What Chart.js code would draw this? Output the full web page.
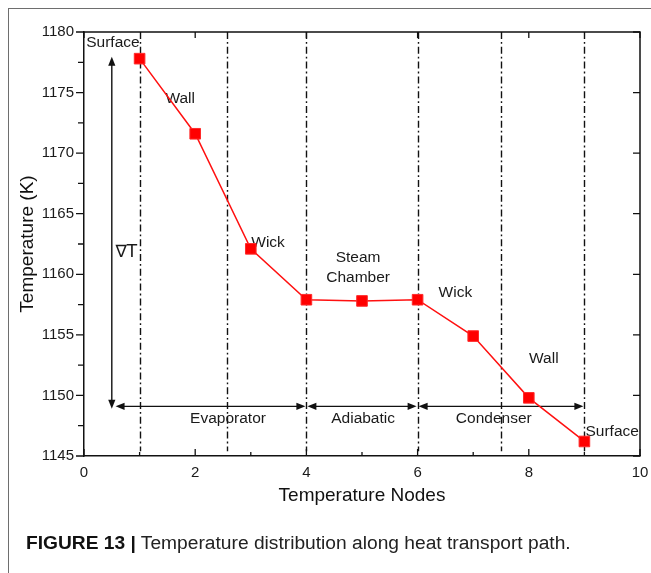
<!DOCTYPE html>
<html>
<head>
<meta charset="utf-8">
<script src="https://cdn.jsdelivr.net/npm/chart.js@4/dist/chart.umd.min.js"></script>
<style>
  html, body { margin: 0; padding: 0; background: #fff; }
  #wrap { position: relative; width: 651px; height: 573px; overflow: hidden; }
  #c { position: absolute; left: 0; top: 0; }
  #frame {
    position: absolute; left: 8px; top: 8px; width: 660px; height: 580px;
    border-left: 1.5px solid #6e6e6e; border-top: 1.5px solid #6e6e6e;
    pointer-events: none;
  }
  #caption {
    position: absolute; left: 26px; top: 533px; white-space: nowrap;
    font-family: "Liberation Sans", Arial, sans-serif; font-size: 19.2px; line-height: 19px;
    color: #222;
  }
  #caption b { color: #111; }
</style>
</head>
<body>
<div id="wrap">
  <canvas id="c" width="651" height="573"></canvas>
  <div id="frame"></div>
  <div id="caption"><b>FIGURE 13 |</b> Temperature distribution along heat transport path.</div>
</div>
<script>
// Temperature at each node along the heat transport path
const nodes = [1, 2, 3, 4, 5, 6, 7, 8, 9];
const temperatures = [1177.8, 1171.6, 1162.1, 1157.9, 1157.8, 1157.9, 1154.9, 1149.8, 1146.2];

// Axis ranges and tick values
const xTickValues = [0, 2, 4, 6, 8, 10];
const yTickValues = [1145, 1150, 1155, 1160, 1165, 1170, 1175, 1180];

// Boundaries between the layers of the heat pipe (node coordinates)
const boundaries = [1, 2.57, 4, 6, 7.5, 9];

// Sections of the heat pipe spanned by the horizontal arrows
const sections = [
  { name: 'Evaporator', from: 0.55, to: 4, labelX: 2.59 },
  { name: 'Adiabatic', from: 4, to: 6, labelX: 5.02 },
  { name: 'Condenser', from: 6, to: 9, labelX: 7.37 }
];
const sectionArrowY = 1149.1;
const sectionLabelY = 1148.1;

// Layer labels placed in data coordinates
const layerLabels = [
  { text: 'Surface', x: 0.52, y: 1179.1 },
  { text: 'Wall', x: 1.73, y: 1174.5 },
  { text: 'Wick', x: 3.31, y: 1162.6 },
  { text: 'Steam', x: 4.93, y: 1161.4 },
  { text: 'Chamber', x: 4.93, y: 1159.75 },
  { text: 'Wick', x: 6.68, y: 1158.5 },
  { text: 'Wall', x: 8.27, y: 1153.0 },
  { text: 'Surface', x: 9.5, y: 1146.97 }
];

// Temperature-difference arrow
const gradientArrow = { x: 0.5, top: 1177.95, bottom: 1148.9, labelX: 0.76, labelY: 1161.8 };

const SANS = '"Liberation Sans", Arial, Helvetica, sans-serif';

function arrowHead(ctx, x, y, dx, dy) {
  const len = 9, half = 3.6;
  const px = -dy, py = dx;
  ctx.beginPath();
  ctx.moveTo(x, y);
  ctx.lineTo(x - dx * len + px * half, y - dy * len + py * half);
  ctx.lineTo(x - dx * len - px * half, y - dy * len - py * half);
  ctx.closePath();
  ctx.fill();
}

const annotations = {
  id: 'annotations',
  beforeDatasetsDraw(chart) {
    const { ctx, scales: { x, y }, chartArea } = chart;
    ctx.save();

    // dash-dot layer boundaries
    ctx.strokeStyle = '#111';
    ctx.lineWidth = 1.4;
    ctx.setLineDash([7, 3, 1.8, 3]);
    boundaries.forEach(b => {
      const px = Math.round(x.getPixelForValue(b)) + 0.5;
      ctx.beginPath();
      ctx.moveTo(px, chartArea.top);
      ctx.lineTo(px, y.getPixelForValue(1145.4));
      ctx.stroke();
    });
    ctx.setLineDash([]);

    // section arrows
    ctx.fillStyle = '#111';
    ctx.lineWidth = 1.4;
    const ay = y.getPixelForValue(sectionArrowY);
    sections.forEach(s => {
      const x1 = x.getPixelForValue(s.from) + 1, x2 = x.getPixelForValue(s.to) - 1;
      ctx.beginPath();
      ctx.moveTo(x1 + 4, ay);
      ctx.lineTo(x2 - 4, ay);
      ctx.stroke();
      arrowHead(ctx, x1, ay, -1, 0);
      arrowHead(ctx, x2, ay, 1, 0);
    });

    // temperature-difference arrow
    const gx = x.getPixelForValue(gradientArrow.x);
    const gt = y.getPixelForValue(gradientArrow.top);
    const gb = y.getPixelForValue(gradientArrow.bottom);
    ctx.beginPath();
    ctx.moveTo(gx, gt + 4);
    ctx.lineTo(gx, gb - 4);
    ctx.stroke();
    arrowHead(ctx, gx, gt, 0, -1);
    arrowHead(ctx, gx, gb, 0, 1);

    // labels
    ctx.fillStyle = '#1a1a1a';
    ctx.textAlign = 'center';
    ctx.textBaseline = 'middle';
    ctx.font = '15.5px ' + SANS;
    layerLabels.forEach(l => ctx.fillText(l.text, x.getPixelForValue(l.x), y.getPixelForValue(l.y)));
    sections.forEach(s => ctx.fillText(s.name, x.getPixelForValue(s.labelX), y.getPixelForValue(sectionLabelY)));
    ctx.font = '17px "DejaVu Sans", ' + SANS;
    ctx.fillText('\u2207T', x.getPixelForValue(gradientArrow.labelX), y.getPixelForValue(gradientArrow.labelY));

    ctx.restore();
  },
  afterDraw(chart) {
    const { ctx, scales: { x, y }, chartArea: a } = chart;
    ctx.save();
    ctx.strokeStyle = '#111';
    ctx.lineWidth = 1.5;
    // top and right edges of the plot frame
    ctx.beginPath();
    ctx.moveTo(a.left, a.top);
    ctx.lineTo(a.right, a.top);
    ctx.lineTo(a.right, a.bottom);
    ctx.stroke();

    ctx.lineWidth = 1.3;
    const xt = x.ticks.map(t => t.value);
    const yt = y.ticks.map(t => t.value);
    ctx.beginPath();
    // bottom: inward major and minor ticks; top: inward major ticks
    xt.forEach((v, i) => {
      const px = x.getPixelForValue(v);
      ctx.moveTo(px, a.bottom); ctx.lineTo(px, a.bottom - 7);
      ctx.moveTo(px, a.top); ctx.lineTo(px, a.top + 6);
      if (i < xt.length - 1) {
        const mx = x.getPixelForValue((v + xt[i + 1]) / 2);
        ctx.moveTo(mx, a.bottom); ctx.lineTo(mx, a.bottom - 4);
      }
    });
    // left: outward major and minor ticks; right: inward major ticks
    yt.forEach((v, i) => {
      const py = y.getPixelForValue(v);
      ctx.moveTo(a.left, py); ctx.lineTo(a.left - 8, py);
      ctx.moveTo(a.right, py); ctx.lineTo(a.right - 7, py);
      if (i < yt.length - 1) {
        const my = y.getPixelForValue((v + yt[i + 1]) / 2);
        ctx.moveTo(a.left, my); ctx.lineTo(a.left - 6, my);
      }
    });
    ctx.stroke();
    ctx.restore();
  }
};

new Chart(document.getElementById('c'), {
  type: 'line',
  data: {
    datasets: [{
      data: nodes.map((n, i) => ({ x: n, y: temperatures[i] })),
      borderColor: '#ff1010',
      borderWidth: 1.5,
      backgroundColor: '#ff0000',
      pointBackgroundColor: '#ff0000',
      pointBorderColor: '#ff2a2a',
      pointBorderWidth: 1,
      pointStyle: 'rect',
      pointRadius: 7.5,
      tension: 0
    }]
  },
  options: {
    responsive: false,
    animation: false,
    devicePixelRatio: 1,
    layout: { padding: { top: 32, right: 11, left: 0, bottom: 65.6 } },
    plugins: { legend: { display: false }, tooltip: { enabled: false } },
    scales: {
      x: {
        type: 'linear',
        min: xTickValues[0],
        max: xTickValues[xTickValues.length - 1],
        afterBuildTicks: s => { s.ticks = xTickValues.map(v => ({ value: v })); },
        afterFit: s => { s.height = 51.4; s.paddingRight = 9; s.paddingLeft = 4; },
        grid: { display: false, drawTicks: false },
        border: { display: true, color: '#111', width: 1.5 },
        ticks: { color: '#1a1a1a', padding: 8, maxRotation: 0, font: { family: SANS, size: 15 }, callback: v => String(v) },
        title: {
          display: true, text: 'Temperature Nodes', color: '#111',
          padding: { top: 0, bottom: 0 }, font: { family: SANS, size: 19 }
        }
      },
      y: {
        type: 'linear',
        min: yTickValues[0],
        max: yTickValues[yTickValues.length - 1],
        afterBuildTicks: s => { s.ticks = yTickValues.map(v => ({ value: v })); },
        afterFit: s => { s.width = 84; },
        grid: { display: false, drawTicks: false },
        border: { display: true, color: '#111', width: 1.5 },
        ticks: { color: '#1a1a1a', padding: 10, font: { family: SANS, size: 15 }, callback: v => String(v) },
        title: {
          display: true, text: 'Temperature (K)', color: '#111',
          padding: { top: 16.6, bottom: 0 }, font: { family: SANS, size: 19 }
        }
      }
    }
  },
  plugins: [annotations]
});
</script>
</body>
</html>
